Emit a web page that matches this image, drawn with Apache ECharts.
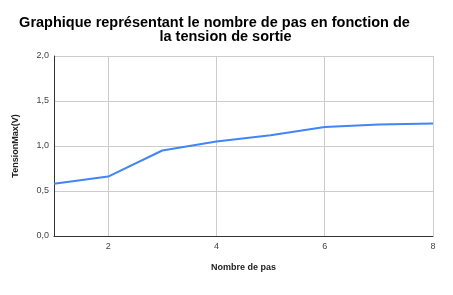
<!DOCTYPE html>
<html><head><meta charset="utf-8">
<script src="https://cdn.jsdelivr.net/npm/echarts@6/dist/echarts.min.js"></script>
<style>html,body{margin:0;padding:0;background:#fff}#c{width:453px;height:295px}</style>
</head><body><div id="c"></div>
<script>
const titleLines = ["Graphique représentant le nombre de pas en fonction de", "la tension de sortie"];
const xName = "Nombre de pas";
const yName = "TensionMax(V)";
const steps = [1, 2, 3, 4, 5, 6, 7, 8];
const tension = [0.58, 0.66, 0.95, 1.05, 1.12, 1.21, 1.24, 1.25];
const xTicks = [2, 4, 6, 8];

const titleStyle = {fontFamily: 'Liberation Sans, Arial', fontSize: 14.5, fontWeight: 'bold', color: '#000', lineHeight: 13};
const chart = echarts.init(document.getElementById('c'));
chart.setOption({
  animation: false,
  title: [
    {text: titleLines[0], left: 214.5, top: 16, textAlign: 'center', padding: 0, textStyle: titleStyle},
    {text: titleLines[1], left: 225.5, top: 30, textAlign: 'center', padding: 0, textStyle: titleStyle}
  ],
  grid: {left: 54, right: 20, top: 56, bottom: 59, containLabel: false},
  xAxis: {
    type: 'value', min: 1, max: 8,
    name: xName, nameLocation: 'middle', nameGap: 27,
    nameTextStyle: {fontFamily: 'Liberation Sans, Arial', fontSize: 9, fontWeight: 'bold', color: '#222'},
    axisLine: {show: true, lineStyle: {color: '#333', width: 1}},
    axisTick: {show: false, customValues: xTicks},
    axisLabel: {customValues: xTicks, fontFamily: 'Liberation Sans, Arial', fontSize: 9, color: '#444', margin: 6},
    splitLine: {show: true, lineStyle: {color: '#ccc', width: 1}}
  },
  yAxis: {
    type: 'value', min: 0, max: 2, interval: 0.5,
    name: yName, nameLocation: 'middle', nameGap: 34, nameRotate: 90,
    nameTextStyle: {fontFamily: 'Liberation Sans, Arial', fontSize: 9, fontWeight: 'bold', color: '#222'},
    axisLine: {show: true, lineStyle: {color: '#333', width: 1}},
    axisTick: {show: false},
    axisLabel: {fontFamily: 'Liberation Sans, Arial', fontSize: 9, color: '#444', margin: 5,
      formatter: v => v.toFixed(1).replace('.', ',')},
    splitLine: {show: true, lineStyle: {color: '#ccc', width: 1}}
  },
  series: [{
    type: 'line', data: steps.map((s, i) => [s, tension[i]]),
    showSymbol: false, symbol: 'none',
    lineStyle: {color: '#4285f4', width: 2}
  }]
});
</script></body></html>
